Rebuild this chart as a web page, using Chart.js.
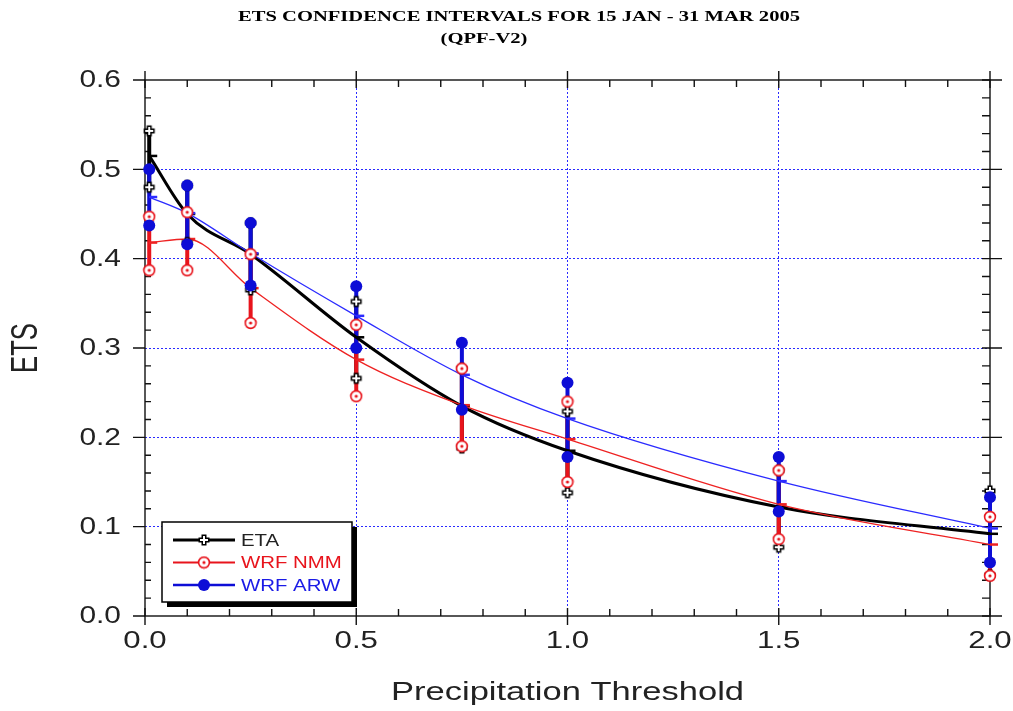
<!DOCTYPE html>
<html>
<head>
<meta charset="utf-8">
<script src="https://cdn.jsdelivr.net/npm/chart.js@4.4.1/dist/chart.umd.min.js"></script>
<style>
  body { margin: 0; background: #fff; }
  canvas { display: block; }
</style>
</head>
<body>
<canvas id="ets_chart" width="1013" height="711"></canvas>
<script>
// precipitation thresholds (in)
var thresholds = [0.01, 0.10, 0.25, 0.50, 0.75, 1.00, 1.50, 2.00];

// ETA
var etaMean = [0.515, 0.450, 0.405, 0.312, 0.235, 0.185, 0.122, 0.092];
var etaLow  = [0.480, 0.418, 0.365, 0.266, 0.188, 0.138, 0.077, 0.046];
var etaHigh = [0.543, 0.482, 0.440, 0.352, 0.277, 0.229, 0.163, 0.140];

// WRF NMM
var nmmMean = [0.418, 0.422, 0.367, 0.287, 0.236, 0.198, 0.125, 0.080];
var nmmLow  = [0.387, 0.387, 0.328, 0.246, 0.190, 0.150, 0.086, 0.045];
var nmmHigh = [0.447, 0.452, 0.405, 0.326, 0.277, 0.240, 0.163, 0.111];

// WRF ARW
var arwMean = [0.469, 0.451, 0.406, 0.336, 0.270, 0.221, 0.151, 0.098];
var arwLow  = [0.437, 0.416, 0.370, 0.300, 0.231, 0.178, 0.117, 0.060];
var arwHigh = [0.500, 0.482, 0.440, 0.369, 0.306, 0.261, 0.178, 0.133];

var seriesNames = ['ETA', 'WRF NMM', 'WRF ARW'];
var yTickValues = [0, 0.1, 0.2, 0.3, 0.4, 0.5, 0.6];
var yTickLabels = ['0.0', '0.1', '0.2', '0.3', '0.4', '0.5', '0.6'];
var xTickValues = [0, 0.5, 1.0, 1.5, 2.0];
var xTickLabels = ['0.0', '0.5', '1.0', '1.5', '2.0'];
var titleLines = ['ETS CONFIDENCE INTERVALS FOR 15 JAN - 31 MAR 2005', '(QPF-V2)'];
var xTitle = 'Precipitation Threshold';
var yTitle = 'ETS';

var BLACK = '#000000', RED = '#e8141c', BLUE = '#0d0dd6';
var GRID = '#2a2aff';

// marker images
function plusIcon() {
    var c = document.createElement('canvas');
    c.width = 14; c.height = 14;
    var g = c.getContext('2d');
    g.strokeStyle = '#000'; g.lineWidth = 5;
    g.beginPath(); g.moveTo(7, 1.5); g.lineTo(7, 12.5); g.moveTo(1.5, 7); g.lineTo(12.5, 7); g.stroke();
    g.strokeStyle = '#fff'; g.lineWidth = 2;
    g.beginPath(); g.moveTo(7, 3); g.lineTo(7, 11); g.moveTo(3, 7); g.lineTo(11, 7); g.stroke();
    return c;
}
function ringIcon() {
    var c = document.createElement('canvas');
    c.width = 14; c.height = 14;
    var g = c.getContext('2d');
    g.fillStyle = '#fff'; g.strokeStyle = RED; g.lineWidth = 1.6;
    g.beginPath(); g.arc(7, 7, 5.4, 0, Math.PI * 2); g.fill(); g.stroke();
    g.fillStyle = RED;
    g.beginPath(); g.arc(7, 7, 1.6, 0, Math.PI * 2); g.fill();
    return c;
}
var plusImg = plusIcon(), ringImg = ringIcon();

function pts(ys) {
    return thresholds.map(function (x, i) { return {x: x, y: ys[i]}; });
}
function bars(lo, hi) {
    var out = [];
    thresholds.forEach(function (x, i) {
        out.push({x: x, y: lo[i]}, {x: x, y: hi[i]}, {x: x, y: null});
    });
    return out;
}
function ends(lo, hi) {
    var out = [];
    thresholds.forEach(function (x, i) { out.push({x: x, y: lo[i]}, {x: x, y: hi[i]}); });
    return out;
}

function meanLine(ys, color, width, order) {
    return {
        data: pts(ys), showLine: true, borderColor: color, borderWidth: width,
        cubicInterpolationMode: 'monotone', pointStyle: 'dash', pointRadius: 8,
        pointBorderColor: color, pointBorderWidth: 2.5, clip: false, order: order
    };
}
function barLine(lo, hi, color, order) {
    return {
        data: bars(lo, hi), showLine: true, spanGaps: false, borderColor: color,
        borderWidth: 4, pointRadius: 0, clip: false, order: order
    };
}
function markers(lo, hi, style, color, order) {
    return {
        data: ends(lo, hi), showLine: false, pointStyle: style, pointRadius: 6,
        backgroundColor: color, borderColor: color, pointBorderWidth: 0,
        clip: false, order: order
    };
}

function stretchText(ctx, text, x, y, sx, align) {
    ctx.save();
    ctx.translate(x, y);
    ctx.scale(sx, 1);
    ctx.textAlign = align;
    ctx.fillText(text, 0, 0);
    ctx.restore();
}

var decor = {
    id: 'decor',
    beforeDatasetsDraw: function (chart) {
        var ctx = chart.ctx, a = chart.chartArea;
        ctx.save();
        ctx.strokeStyle = '#111'; ctx.lineWidth = 1.4;
        ctx.strokeRect(a.left, a.top, a.right - a.left, a.bottom - a.top);
        ctx.beginPath();
        var k, p;
        for (k = 0; k <= 30; k++) {
            p = chart.scales.y.getPixelForValue(k * 0.02);
            if (k % 5 === 0) {
                ctx.moveTo(a.left - 12, p); ctx.lineTo(a.left, p);
                ctx.moveTo(a.right - 8, p); ctx.lineTo(a.right + 12, p);
            } else {
                ctx.moveTo(a.left, p); ctx.lineTo(a.left + 6, p);
                ctx.moveTo(a.right - 8, p); ctx.lineTo(a.right, p);
            }
        }
        for (k = 0; k <= 20; k++) {
            p = chart.scales.x.getPixelForValue(k * 0.1);
            if (k % 5 === 0) {
                ctx.moveTo(p, a.bottom - 8); ctx.lineTo(p, a.bottom + 9);
                ctx.moveTo(p, a.top - 9); ctx.lineTo(p, a.top + 8);
            } else {
                ctx.moveTo(p, a.bottom - 7); ctx.lineTo(p, a.bottom);
                ctx.moveTo(p, a.top); ctx.lineTo(p, a.top + 7);
            }
        }
        ctx.stroke();
        ctx.restore();
    },
    afterDraw: function (chart) {
        var ctx = chart.ctx, a = chart.chartArea;
        ctx.save();
        ctx.fillStyle = '#222';
        ctx.textBaseline = 'middle';

        // tick labels
        ctx.font = '23px "Liberation Sans", Arial, sans-serif';
        yTickValues.forEach(function (v, i) {
            stretchText(ctx, yTickLabels[i], a.left - 24, chart.scales.y.getPixelForValue(v) + 1, 1.3, 'right');
        });
        ctx.font = '24px "Liberation Sans", Arial, sans-serif';
        xTickValues.forEach(function (v, i) {
            stretchText(ctx, xTickLabels[i], chart.scales.x.getPixelForValue(v), a.bottom + 25, 1.3, 'center');
        });

        // axis titles
        ctx.font = '26px "Liberation Sans", Arial, sans-serif';
        var w = ctx.measureText(xTitle).width;
        stretchText(ctx, xTitle, (a.left + a.right) / 2, 693, 353 / w, 'center');
        ctx.font = '28px "Liberation Sans", Arial, sans-serif';
        w = ctx.measureText(yTitle).width;
        ctx.save();
        ctx.translate(27, 348);
        ctx.rotate(-Math.PI / 2);
        ctx.scale(50 / w, 1.35);
        ctx.textAlign = 'center';
        ctx.fillText(yTitle, 0, 0);
        ctx.restore();

        // title
        ctx.fillStyle = '#000';
        ctx.font = 'bold 15px "Liberation Serif", "Times New Roman", serif';
        var sx = 562 / ctx.measureText(titleLines[0]).width;
        stretchText(ctx, titleLines[0], 519, 17, sx, 'center');
        stretchText(ctx, titleLines[1], 484, 39, sx, 'center');

        // legend
        var bx = 162, by = 522, bw = 190, bh = 80;
        ctx.fillStyle = '#000';
        ctx.fillRect(bx + 5, by + 5, bw, bh);
        ctx.fillStyle = '#fff';
        ctx.fillRect(bx, by, bw, bh);
        ctx.strokeStyle = '#000'; ctx.lineWidth = 1.5;
        ctx.strokeRect(bx, by, bw, bh);
        var colors = [BLACK, RED, BLUE], textColors = ['#222', RED, '#1a1ae6'], widths = [3, 2, 2.5];
        ctx.font = '17px "Liberation Sans", Arial, sans-serif';
        seriesNames.forEach(function (name, i) {
            var y = by + 18 + i * 22.5;
            ctx.strokeStyle = colors[i]; ctx.lineWidth = widths[i];
            ctx.beginPath(); ctx.moveTo(bx + 11, y); ctx.lineTo(bx + 73, y); ctx.stroke();
            if (i === 0) ctx.drawImage(plusImg, bx + 35, y - 7);
            else if (i === 1) ctx.drawImage(ringImg, bx + 35, y - 7);
            else {
                ctx.fillStyle = BLUE;
                ctx.beginPath(); ctx.arc(bx + 42, y, 6, 0, Math.PI * 2); ctx.fill();
            }
            ctx.fillStyle = textColors[i];
            stretchText(ctx, name, bx + 79, y + 1, 1.2, 'left');
        });
        ctx.restore();
    }
};

var ctx = document.getElementById('ets_chart').getContext('2d');
var myChart = new Chart(ctx, {
    type: 'scatter',
    data: {
        datasets: [
            markers(arwLow, arwHigh, 'circle', BLUE, 1),
            markers(nmmLow, nmmHigh, ringImg, RED, 2),
            markers(etaLow, etaHigh, plusImg, BLACK, 3),
            meanLine(arwMean, '#2b2bff', 1.3, 5),
            meanLine(nmmMean, '#ee2222', 1.3, 6),
            meanLine(etaMean, BLACK, 3, 7),
            barLine(arwLow, arwHigh, BLUE, 10),
            barLine(nmmLow, nmmHigh, RED, 11),
            barLine(etaLow, etaHigh, BLACK, 12)
        ]
    },
    options: {
        responsive: false,
        animation: false,
        events: [],
        layout: { padding: { top: 80, right: 23, left: 0, bottom: 0 } },
        plugins: { legend: { display: false }, tooltip: { enabled: false }, title: { display: false } },
        scales: {
            x: {
                type: 'linear', min: 0, max: 2,
                ticks: { stepSize: 0.5, display: false },
                grid: {
                    drawTicks: false, lineWidth: 1,
                    color: function (c) { return (c.tick && (c.tick.value === 0 || c.tick.value === 2)) ? 'rgba(0,0,0,0)' : GRID; }
                },
                border: { display: false, dash: [2, 2] },
                afterFit: function (scale) { scale.height = 95; }
            },
            y: {
                type: 'linear', min: 0, max: 0.6,
                ticks: { stepSize: 0.1, display: false },
                grid: {
                    drawTicks: false, lineWidth: 1,
                    color: function (c) { return (c.tick && (c.tick.value === 0 || Math.abs(c.tick.value - 0.6) < 1e-9)) ? 'rgba(0,0,0,0)' : GRID; }
                },
                border: { display: false, dash: [2, 2] },
                afterFit: function (scale) { scale.width = 145; }
            }
        }
    },
    plugins: [decor]
});
</script>
</body>
</html>
